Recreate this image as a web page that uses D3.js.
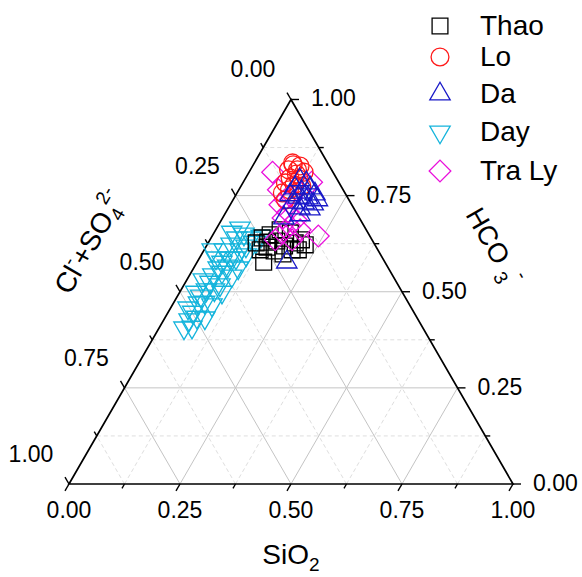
<!DOCTYPE html>
<html><head><meta charset="utf-8">
<script src="https://cdn.jsdelivr.net/npm/d3@7"></script>
<style>
html,body{margin:0;padding:0;background:#fff;}
text{font-family:"Liberation Sans",Arial,sans-serif;fill:#000;}
</style></head>
<body>
<svg id="chart" width="582" height="577"></svg>
<script>
// ---- data (fractions; Cl-+SO4 2- is the remainder 1 - SiO2 - HCO3) ----
const seriesNames = ["Thao", "Lo", "Da", "Day", "Tra Ly"];
const tickValues = [0, 0.25, 0.5, 0.75, 1];
const tickLabels = ["0.00", "0.25", "0.50", "0.75", "1.00"];
const minorValues = [0.125, 0.375, 0.625, 0.875];

const thaoSiO2 = [.150,.115,.108,.129,.152,.176,.196,.206,.172,.159,.138,.198,.183,.212,.221,.133,.145,.126];
const thaoHCO3 = [.577,.640,.627,.648,.632,.619,.627,.635,.653,.606,.616,.609,.598,.609,.622,.629,.661,.609];

const loSiO2 = [.090,.107,.086,.124,.109,.100,.122,.096,.118,.137,.114,.102,.118,.106,.086];
const loHCO3 = [.830,.827,.817,.811,.806,.796,.793,.783,.778,.775,.765,.757,.739,.817,.835];

const daSiO2 = [.124,.143,.124,.158,.145,.177,.143,.166,.138,.164,.186,.161,.185,.122,.190,.202,.138,.170];
const daHCO3 = [.791,.783,.770,.770,.759,.754,.746,.744,.733,.731,.728,.718,.715,.752,.739,.577,.692,.700];

const daySiO2 = [.056,.057,.055,.056,.052,.057,.055,.052,.055,.056,.018,.037,.045,.053,.058,.069,.090,.081,.069,.069,.075,.081,.069,.071,.073,.074,.082,.089,.106,.110,.039,.052,.037,.036,.039,.095,.096,.090,.089,.100,.101];
const dayHCO3 = [.406,.427,.447,.471,.489,.505,.525,.544,.562,.577,.609,.588,.609,.624,.640,.650,.640,.609,.588,.551,.505,.518,.473,.434,.408,.567,.588,.619,.629,.645,.655,.666,.531,.499,.458,.499,.541,.432,.466,.562,.596];

const traSiO2 = [.053,.154,.239,.136,.162,.154,.168,.117,.089,.185,.147,.190,.112,.139,.130];
const traHCO3 = [.811,.785,.645,.692,.671,.653,.687,.739,.765,.635,.635,.661,.726,.707,.744];

// ---- layout ----
const svg = d3.select("#chart");
const X0 = 69, Y0 = 484, SIDE = 444;
const s = d3.scaleLinear().domain([0, 1]).range([0, SIDE]);
const hgt = d3.scaleLinear().domain([0, 1]).range([0, SIDE * Math.sqrt(3) / 2]);
function proj(a, b) { return [X0 + s(a) + s(b) / 2, Y0 - hgt(b)]; }

// grid
const g = svg.append("g");
function gridLines(v, major) {
  const segs = [
    [proj(v, 0), proj(v, 1 - v)],        // constant SiO2
    [proj(0, v), proj(1 - v, v)],        // constant HCO3
    [proj(1 - v, 0), proj(0, 1 - v)]     // constant Cl+SO4
  ];
  segs.forEach(([p, q]) => {
    g.append("line").attr("x1", p[0]).attr("y1", p[1]).attr("x2", q[0]).attr("y2", q[1])
      .attr("stroke", major ? "#c4c4c4" : "#dedede").attr("stroke-width", 1)
      .attr("stroke-dasharray", major ? null : "4,3");
  });
}
minorValues.forEach(v => gridLines(v, false));
tickValues.filter(v => v > 0 && v < 1).forEach(v => gridLines(v, true));

// triangle frame
const A = proj(0, 0), B = proj(1, 0), C = proj(0, 1);
svg.append("path").attr("d", `M${A}L${B}L${C}Z`).attr("fill", "none")
  .attr("stroke", "#000").attr("stroke-width", 1.7).attr("stroke-linejoin", "miter");

// ticks
const ax = svg.append("g").attr("stroke", "#000").attr("stroke-width", 1.4);
const dirBottom = [-0.5, 0.866], dirRight = [1, 0], dirLeft = [-0.5, -0.866];
function tick(p, d, len) {
  ax.append("line").attr("x1", p[0]).attr("y1", p[1])
    .attr("x2", p[0] + d[0] * len).attr("y2", p[1] + d[1] * len);
}
tickValues.forEach(v => {
  tick(proj(v, 0), dirBottom, 8);
  tick(proj(1 - v, v), dirRight, 8);
  tick(proj(0, 1 - v), dirLeft, 8);
});
minorValues.forEach(v => {
  tick(proj(v, 0), dirBottom, 5);
  tick(proj(1 - v, v), dirRight, 5);
  tick(proj(0, 1 - v), dirLeft, 5);
});

// tick labels
const lab = svg.append("g").attr("font-size", 23);
tickValues.forEach((v, i) => {
  const pb = proj(v, 0);
  lab.append("text").attr("x", pb[0]).attr("y", pb[1] + 34).attr("text-anchor", "middle").text(tickLabels[i]);
  const pr = proj(1 - v, v);
  lab.append("text").attr("x", pr[0] + 20).attr("y", pr[1] + 7).attr("text-anchor", "start").text(tickLabels[i]);
  const pl = proj(0, 1 - v);
  lab.append("text").attr("x", pl[0] - 38).attr("y", pl[1] - 22).attr("text-anchor", "middle").text(tickLabels[i]);
});

// axis titles
const t1 = svg.append("text").attr("x", 291).attr("y", 564).attr("font-size", 28).attr("text-anchor", "middle");
t1.append("tspan").text("SiO");
t1.append("tspan").attr("font-size", 19).attr("dy", 7).text("2");

const t2 = svg.append("text").attr("font-size", 27).attr("text-anchor", "middle")
  .attr("transform", "translate(486,251) rotate(60)");
t2.append("tspan").text("HCO ");
t2.append("tspan").attr("font-size", 19).attr("dy", 7).text("3");
t2.append("tspan").attr("font-size", 19).attr("dy", -20).text("-");

const t3 = svg.append("text").attr("font-size", 28).attr("text-anchor", "middle")
  .attr("transform", "translate(98,247) rotate(-60)");
t3.append("tspan").text("Cl");
t3.append("tspan").attr("font-size", 19).attr("dy", -12).text("-");
t3.append("tspan").attr("dy", 12).text("+SO");
t3.append("tspan").attr("font-size", 19).attr("dy", 7).text("4");
t3.append("tspan").attr("font-size", 19).attr("dy", -21).attr("dx", -4).text("2-");

// series
const styles = {
  "Thao":   {color: "#000000", sym: d3.symbolSquare, size: 250, rot: 0},
  "Lo":     {color: "#ff1a1a", sym: d3.symbolCircle, size: 250, rot: 0},
  "Da":     {color: "#1818c8", sym: d3.symbolTriangle, size: 180, rot: 0},
  "Day":    {color: "#14b4dc", sym: d3.symbolTriangle, size: 180, rot: 180},
  "Tra Ly": {color: "#ea10dc", sym: d3.symbolSquare, size: 235, rot: 45}
};
const seriesData = {
  "Thao": [thaoSiO2, thaoHCO3], "Lo": [loSiO2, loHCO3], "Da": [daSiO2, daHCO3],
  "Day": [daySiO2, dayHCO3], "Tra Ly": [traSiO2, traHCO3]
};
const drawOrder = ["Day", "Thao", "Tra Ly", "Lo", "Da"];
drawOrder.forEach(name => {
  const st = styles[name];
  const [aa, bb] = seriesData[name];
  const pts = aa.map((a, i) => proj(a, bb[i]));
  svg.append("g").selectAll("path").data(pts).join("path")
    .attr("d", d3.symbol(st.sym, st.size)())
    .attr("transform", d => `translate(${d[0]},${d[1]}) rotate(${st.rot})`)
    .attr("fill", "none").attr("stroke", st.color).attr("stroke-width", 1.3);
});

// legend
const legY = [26, 57, 94, 132, 171];
const leg = svg.append("g");
seriesNames.forEach((name, i) => {
  const st = styles[name];
  leg.append("path").attr("d", d3.symbol(st.sym, st.size)())
    .attr("transform", `translate(440,${legY[i]}) rotate(${st.rot})`)
    .attr("fill", "none").attr("stroke", st.color).attr("stroke-width", 1.3);
  leg.append("text").attr("x", 480).attr("y", legY[i] + 9).attr("font-size", 28).text(name);
});
</script>
</body></html>
